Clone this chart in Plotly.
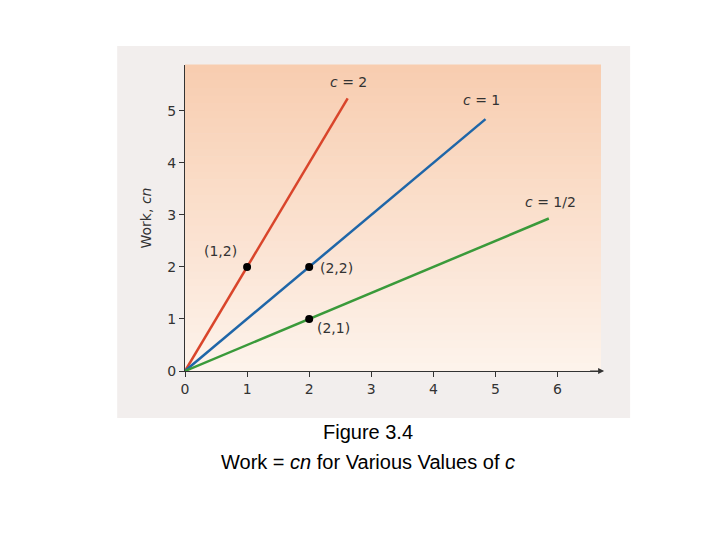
import plotly.graph_objects as go

c_labels = ["c = 2", "c = 1", "c = 1/2"]
c_vals = [2, 1, 0.5]
n_end = [2.62, 4.84, 5.86]
colors = ["#d9452b", "#1f66a8", "#3a9a3a"]
pts_x = [1, 2, 2]
pts_y = [2, 2, 1]
pts_lab = ["(1,2)", "(2,2)", "(2,1)"]
xticks = [0, 1, 2, 3, 4, 5, 6]
yticks = [0, 1, 2, 3, 4, 5]

fig = go.Figure()
for lab, c, ne, col in zip(c_labels, c_vals, n_end, colors):
    fig.add_trace(go.Scatter(x=[0, ne], y=[0, c * ne], mode="lines",
                             line=dict(color=col, width=2.5), showlegend=False))
fig.add_trace(go.Scatter(x=pts_x, y=pts_y, mode="markers",
                         marker=dict(color="black", size=8), showlegend=False))

fig.add_shape(type="rect", xref="paper", yref="paper", x0=-0.163, x1=1.07, y0=-0.154, y1=1.062,
              fillcolor="#f2eeed", line_width=0, layer="below")
# vertical gradient background
top = (248, 205, 176)
bot = (253, 243, 235)
N = 40
for i in range(N):
    t = i / (N - 1)
    col = tuple(round(bot[k] + (top[k] - bot[k]) * t) for k in range(3))
    fig.add_shape(type="rect", xref="paper", yref="paper", x0=0, x1=1,
                  y0=i / N, y1=(i + 1) / N + 0.002,
                  fillcolor="rgb(%d,%d,%d)" % col, line_width=0, layer="below")

fnt = dict(family="DejaVu Sans", size=14, color="#333")
ann = [
    dict(x=2.3, y=5.55, text="<i>c</i> = 2", xanchor="left"),
    dict(x=4.45, y=5.2, text="<i>c</i> = 1", xanchor="left"),
    dict(x=5.45, y=3.25, text="<i>c</i> = 1/2", xanchor="left"),
    dict(x=0.28, y=2.3, text="(1,2)", xanchor="left"),
    dict(x=2.15, y=1.97, text="(2,2)", xanchor="left"),
    dict(x=2.1, y=0.82, text="(2,1)", xanchor="left"),
    dict(x=6.9, y=0, text="<i>n</i>", xanchor="left"),
]
for a in ann:
    fig.add_annotation(showarrow=False, font=fnt, **a)
fig.add_annotation(x=6.75, y=0, ax=6.5, ay=0, xref="x", yref="y", axref="x", ayref="y",
                   showarrow=True, arrowhead=2, arrowsize=1, arrowwidth=1.2, arrowcolor="#333", text="")
fig.add_annotation(x=0, y=6.2, ax=0, ay=5.9, xref="x", yref="y", axref="x", ayref="y",
                   showarrow=True, arrowhead=2, arrowsize=1, arrowwidth=1.2, arrowcolor="#333", text="")
fig.add_shape(type="line", x0=0, x1=0, y0=5.88, y1=6.1, line=dict(color="#333", width=1.2))

cap = dict(family="Liberation Sans", size=20, color="black")
fig.add_annotation(xref="paper", yref="paper", x=0.44, y=-0.242, text="Figure 3.4",
                   showarrow=False, font=cap)
fig.add_annotation(xref="paper", yref="paper", x=0.44, y=-0.34,
                   text="Work = <i>cn</i> for Various Values of <i>c</i>", showarrow=False, font=cap)

fig.update_xaxes(range=[0, 6.7], tickvals=xticks, showgrid=False, zeroline=False,
                 showline=True, linecolor="#333", ticks="outside", ticklen=5, tickcolor="#333",
                 tickfont=fnt)
fig.update_yaxes(range=[0, 5.88], tickvals=yticks, showgrid=False, zeroline=False,
                 showline=True, linecolor="#333", ticks="outside", ticklen=5, tickcolor="#333",
                 tickfont=fnt, title=dict(text="Work, <i>cn</i>", font=fnt, standoff=12))
fig.update_layout(width=720, height=540,
                  margin=dict(l=177, r=127, t=57, b=177, autoexpand=False),
                  paper_bgcolor="white", plot_bgcolor="rgba(0,0,0,0)")
fig.write_html("out.html")
